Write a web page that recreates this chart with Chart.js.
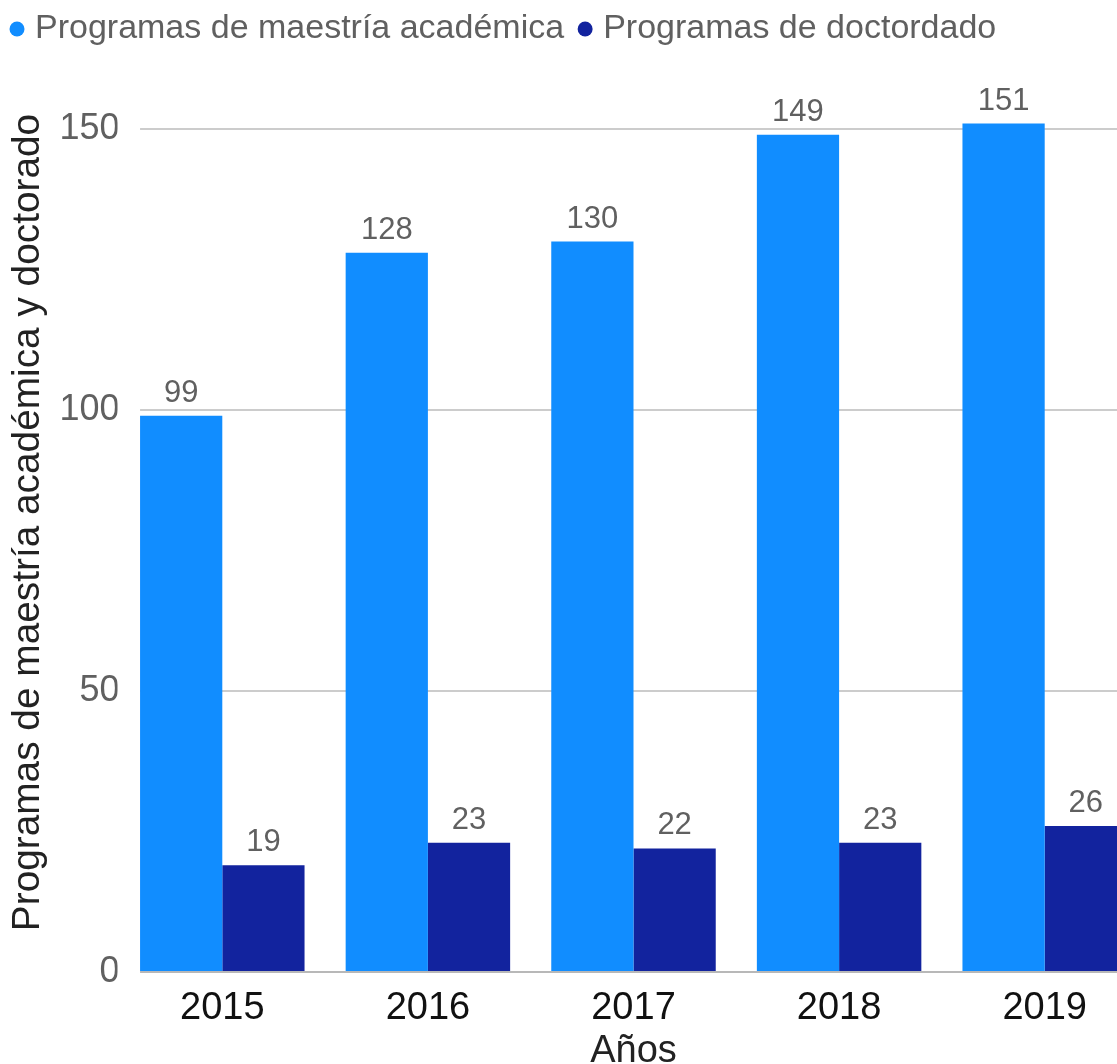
<!DOCTYPE html>
<html>
<head>
<meta charset="utf-8">
<script src="https://cdn.jsdelivr.net/npm/chart.js@4/dist/chart.umd.min.js"></script>
<style>
html,body{margin:0;padding:0;background:#fff;overflow:hidden}
#wrap{width:1150px;height:1064px;position:relative}
</style>
</head>
<body>
<div id="wrap"><canvas id="c"></canvas></div>
<script>
'use strict';
const years=['2015','2016','2017','2018','2019'];
const maestria=[99,128,130,149,151];
const doctorado=[19,23,22,23,26];
const seriesNames=['Programas de maestría académica','Programas de doctordado'];
const yTitle='Programas de maestría académica y doctorado';
const xTitle='Años';
const FONT='"Liberation Sans", Arial, sans-serif';

// extra room under the legend
const legendGap={id:'legendGap',beforeInit(chart){
  const fit=chart.legend.fit;
  chart.legend.fit=function(){fit.call(this);this.height+=17;};
}};
// hide grid/border left of the first bar group (plot starts at first bar)
const trimLeft={id:'trimLeft',beforeDatasetsDraw(chart){
  const el=chart.getDatasetMeta(0).data[0];if(!el)return;
  const a=chart.chartArea,ctx=chart.ctx,edge=el.x-el.width/2;
  ctx.save();ctx.fillStyle='#fff';
  ctx.fillRect(a.left-2,a.top-4,edge-a.left+2,a.bottom-a.top+8);
  ctx.restore();
}};
const valueLabels={id:'valueLabels',afterDatasetsDraw(chart){
  const ctx=chart.ctx;ctx.save();
  ctx.font='31px '+FONT;ctx.fillStyle='#606060';ctx.textAlign='center';ctx.textBaseline='alphabetic';
  chart.data.datasets.forEach((ds,i)=>{
    chart.getDatasetMeta(i).data.forEach((el,j)=>{ctx.fillText(String(ds.data[j]),el.x,el.y-14);});
  });
  ctx.restore();
}};

new Chart(document.getElementById('c'),{
  type:'bar',
  data:{labels:years,datasets:[
    {label:seriesNames[0],data:maestria,backgroundColor:'#118DFF',categoryPercentage:0.8,barPercentage:1},
    {label:seriesNames[1],data:doctorado,backgroundColor:'#12239E',categoryPercentage:0.8,barPercentage:1}
  ]},
  options:{
    responsive:true,maintainAspectRatio:false,animation:false,
    layout:{padding:{left:-4,right:2.5,top:-8,bottom:0}},
    plugins:{
      legend:{position:'top',align:'start',
        labels:{usePointStyle:true,pointStyle:'circle',boxWidth:2,boxHeight:10.6,padding:20,
          color:'#606060',font:{family:FONT,size:34}}},
      tooltip:{enabled:false}
    },
    scales:{
      x:{grid:{display:false},border:{display:true,color:'#b8b8b8',width:2},
        ticks:{color:'#111',font:{family:FONT,size:38},padding:6},
        title:{display:true,text:xTitle,color:'#222',font:{family:FONT,size:38},padding:{top:0,bottom:-10}},
        afterFit(s){s.height=92;}},
      y:{min:0,max:160,
        ticks:{stepSize:50,includeBounds:false,color:'#606060',font:{family:FONT,size:36},padding:0},
        grid:{color:'#cccccc',lineWidth:2,drawTicks:false},
        border:{display:false},
        title:{display:true,text:yTitle,color:'#222',font:{family:FONT,size:38.8},padding:{top:9,bottom:0}},
        afterFit(s){s.width=123.5;}}
    }
  },
  plugins:[legendGap,trimLeft,valueLabels]
});
</script>
</body>
</html>
